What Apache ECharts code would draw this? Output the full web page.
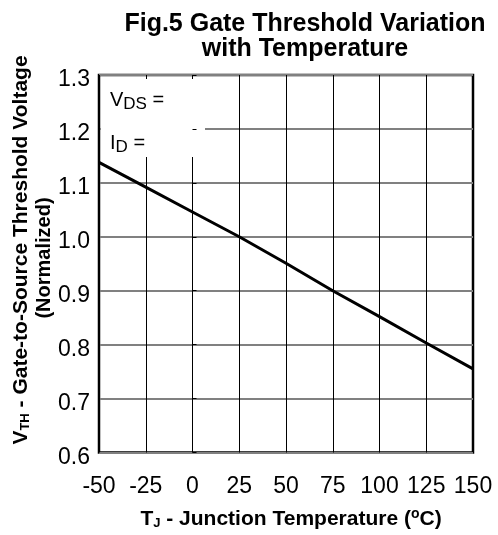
<!DOCTYPE html>
<html>
<head>
<meta charset="utf-8">
<script src="https://cdn.jsdelivr.net/npm/echarts@6/dist/echarts.min.js"></script>
<style>
  html, body { margin: 0; padding: 0; background: #fff; }
  #main { width: 498px; height: 535px; }
</style>
</head>
<body>
<div id="main"></div>
<script>
// junction temperature (degC) and normalized threshold voltage
const temps = [-50, -25, 0, 25, 50, 75, 100, 125, 150]
const vth = [1.138, 1.092, 1.046, 1.0, 0.951, 0.9, 0.852, 0.803, 0.755]

const font = 'Liberation Sans, Arial, sans-serif'
const innerTick = { show: true, inside: true, length: 4, lineStyle: { color: '#000', width: 1 } }

const chart = echarts.init(document.getElementById('main'))
const option = {
  animation: false,
  title: {
    text: 'Fig.5 Gate Threshold Variation\nwith Temperature',
    left: 300,
    top: 7,
    textAlign: 'center',
    textStyle: { fontFamily: font, fontSize: 25, fontWeight: 'bold', color: '#000', lineHeight: 25 }
  },
  grid: {
    left: 99, right: 25, top: 75, bottom: 82,
    show: true, borderColor: '#000', borderWidth: 2.5
  },
  xAxis: [
    {
      type: 'value',
      min: -50, max: 150, interval: 25,
      axisLine: { show: false },
      axisTick: { show: false },
      splitLine: { show: true, lineStyle: { color: '#000', width: 1 } },
      axisLabel: {
        fontFamily: font, fontSize: 23, color: '#000', margin: 23,
        formatter: v => (v === 50 ? '{up|50}' : String(v)),
        rich: { up: { fontFamily: font, fontSize: 23, color: '#000', padding: [0, 0, 5, 0] } }
      },
      name: '{b|T}{bs|J}{b| - Junction Temperature (}{sup|o}{b|C)}',
      nameLocation: 'middle',
      nameGap: 55,
      nameTextStyle: {
        padding: [0, 0, 0, 10],
        rich: {
          b: { fontFamily: font, fontSize: 21, fontWeight: 'bold', color: '#000' },
          bs: { fontFamily: font, fontSize: 13, fontWeight: 'bold', color: '#000', padding: [9, 0, 0, 0] },
          sup: { fontFamily: font, fontSize: 14, fontWeight: 'bold', color: '#000', padding: [0, 0, 9, 0] }
        }
      }
    },
    {
      // inner ticks along the top edge, drawn above the note box
      type: 'value', position: 'top',
      min: -50, max: 150, interval: 25,
      axisLine: { show: false },
      axisLabel: { show: false },
      splitLine: { show: false },
      axisTick: innerTick,
      z: 60
    }
  ],
  yAxis: [
    {
      type: 'value',
      min: 0.6, max: 1.3, interval: 0.1,
      axisLine: { show: false },
      axisTick: { show: false },
      splitLine: { show: true, lineStyle: { color: '#808080', width: 1.8 } },
      axisLabel: {
        margin: 9,
        formatter: v => '{v|' + v.toFixed(1) + '}',
        rich: { v: { fontFamily: font, fontSize: 23, color: '#000', padding: [10, 0, 0, 0] } }
      }
    },
    {
      // inner ticks along the left edge
      type: 'value', position: 'left',
      min: 0.6, max: 1.3, interval: 0.1,
      axisLine: { show: false },
      axisLabel: { show: false },
      splitLine: { show: false },
      axisTick: innerTick,
      z: 60
    }
  ],
  graphic: [
    {
      type: 'rect', z: 50,
      shape: { x: 101, y: 77, width: 104, height: 80 },
      style: { fill: '#fff' }
    },
    {
      type: 'text', z: 51, left: 110, top: 90,
      style: {
        text: '{n|V}{s|DS}{n| =}',
        rich: {
          n: { fontFamily: font, fontSize: 20, fill: '#000' },
          s: { fontFamily: font, fontSize: 17, fill: '#000', padding: [9, 0, 0, 0] }
        }
      }
    },
    {
      type: 'text', z: 51, left: 110, top: 133,
      style: {
        text: '{n|I}{s|D}{n| =}',
        rich: {
          n: { fontFamily: font, fontSize: 20, fill: '#000' },
          s: { fontFamily: font, fontSize: 17, fill: '#000', padding: [9, 0, 0, 0] }
        }
      }
    },
    {
      // y-axis title, first line
      type: 'text', x: 21, y: 250, rotation: Math.PI / 2,
      style: {
        text: '{b|V}{bs|TH}{b| - Gate-to-Source Threshold Voltage}',
        align: 'center', verticalAlign: 'middle',
        rich: {
          b: { fontFamily: font, fontSize: 21, fontWeight: 'bold', fill: '#000' },
          bs: { fontFamily: font, fontSize: 13, fontWeight: 'bold', fill: '#000', padding: [9, 0, 0, 0] }
        }
      }
    },
    {
      // y-axis title, second line
      type: 'text', x: 44, y: 258, rotation: Math.PI / 2,
      style: {
        text: '(Normalized)',
        align: 'center', verticalAlign: 'middle',
        fontFamily: font, fontSize: 20, fontWeight: 'bold', fill: '#000'
      }
    }
  ],
  series: [
    {
      type: 'line',
      xAxisIndex: 0,
      yAxisIndex: 0,
      data: temps.map((t, i) => [t, vth[i]]),
      showSymbol: false,
      lineStyle: { color: '#000', width: 3 },
      z: 10
    }
  ]
}
chart.setOption(option)
</script>
</body>
</html>
